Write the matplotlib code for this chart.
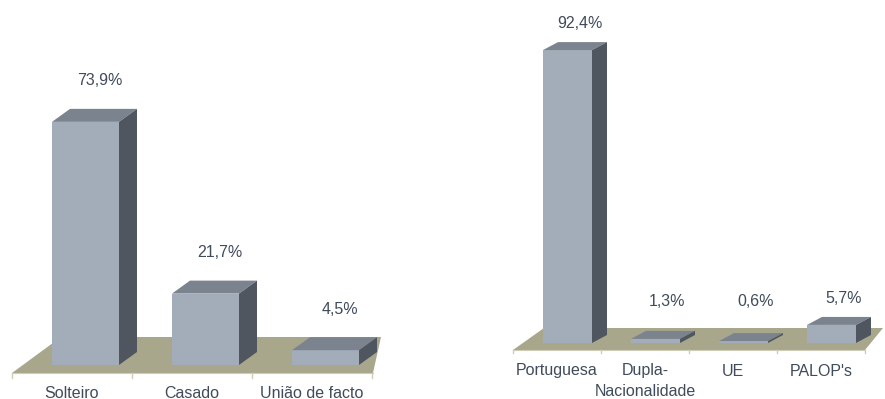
import matplotlib.pyplot as plt
from matplotlib.patches import Polygon

plt.rcParams['font.family'] = ['Liberation Sans', 'DejaVu Sans']

estado_civil = ["Solteiro", "Casado", "União de facto"]
estado_pct = [73.9, 21.7, 4.5]
estado_txt = ["73,9%", "21,7%", "4,5%"]

nacionalidade = ["Portuguesa", "Dupla-\nNacionalidade", "UE", "PALOP's"]
nacional_pct = [92.4, 1.3, 0.6, 5.7]
nacional_txt = ["92,4%", "1,3%", "0,6%", "5,7%"]

FRONT = "#a3adba"
TOP = "#7b848e"
SIDE = "#4f565f"
FLOOR = "#a8a78b"
TICK = "#cfcdb8"
TEXT = "#404b5b"

fig = plt.figure(figsize=(8.85, 3.99), dpi=100)


def bar3d(ax, cats, vals, labels, off, width, dx, dy, floor, lab_dy, lab_min, cat_y):
    # floor: front edge, then back edge (perspective skew)
    fy0, fy1, bl, br, fr = floor
    ax.add_patch(Polygon([(0, fy0), (fr, fy0), (br, fy1), (bl, fy1)],
                         closed=True, fc=FLOOR, ec="none", zorder=1))
    tick_len = (fy1 - fy0) * 0.15
    for i in range(len(cats) + 1):
        ax.plot([i, i], [fy0, fy0 - tick_len], color=TICK, lw=1, zorder=1)
    ax.plot([0, fr], [fy0, fy0], color=TICK, lw=0.8, zorder=1)

    for i, (v, lab) in enumerate(zip(vals, labels)):
        x0 = i + off
        x1 = x0 + width
        ax.add_patch(Polygon([(x0, 0), (x1, 0), (x1, v), (x0, v)],
                             closed=True, fc=FRONT, ec="none", zorder=3))
        ax.add_patch(Polygon([(x0, v), (x0 + dx, v + dy), (x1 + dx, v + dy), (x1, v)],
                             closed=True, fc=TOP, ec="none", zorder=3))
        ax.add_patch(Polygon([(x1, 0), (x1 + dx, dy), (x1 + dx, v + dy), (x1, v)],
                             closed=True, fc=SIDE, ec="none", zorder=3))
        ly = max(v + dy + lab_dy, lab_min)
        ax.text((x0 + x1) / 2 + 0.8 * dx, ly, lab, ha="center", va="center",
                fontsize=11.5, color=TEXT)

    for i, c in enumerate(cats):
        ax.text(i + 0.5, cat_y, c, ha="center", va="top", fontsize=11.5,
                color=TEXT, linespacing=1.5)


# left panel: 120 px per category, 3.29 px per percent, base at y=365 px
ax1 = fig.add_axes([0, 0, 390 / 885, 1])
ax1.set_xlim(-12 / 120, 378 / 120)
ax1.set_ylim((365 - 399) / 3.29, 365 / 3.29)
bar3d(ax1, estado_civil, estado_pct, estado_txt,
      off=40 / 120, width=67 / 120, dx=18 / 120, dy=13 / 3.29,
      floor=(-8 / 3.29, 28 / 3.29, 49 / 120, 369 / 120, 361 / 120),
      lab_dy=8.5, lab_min=0, cat_y=-20.5 / 3.29)
ax1.axis("off")

# right panel: 88 px per category, 3.17 px per percent, base at y=343 px
ax2 = fig.add_axes([495 / 885, 0, 390 / 885, 1])
ax2.set_xlim(-18 / 88, 372 / 88)
ax2.set_ylim((343 - 399) / 3.17, 343 / 3.17)
bar3d(ax2, nacionalidade, nacional_pct, nacional_txt,
      off=30 / 88, width=49 / 88, dx=15 / 88, dy=8 / 3.17,
      floor=(-7 / 3.17, 15 / 3.17, 31 / 88, 370 / 88, 352 / 88),
      lab_dy=5.8, lab_min=13.0, cat_y=-20.5 / 3.17)
ax2.axis("off")

fig.savefig("out.png", dpi=100)
